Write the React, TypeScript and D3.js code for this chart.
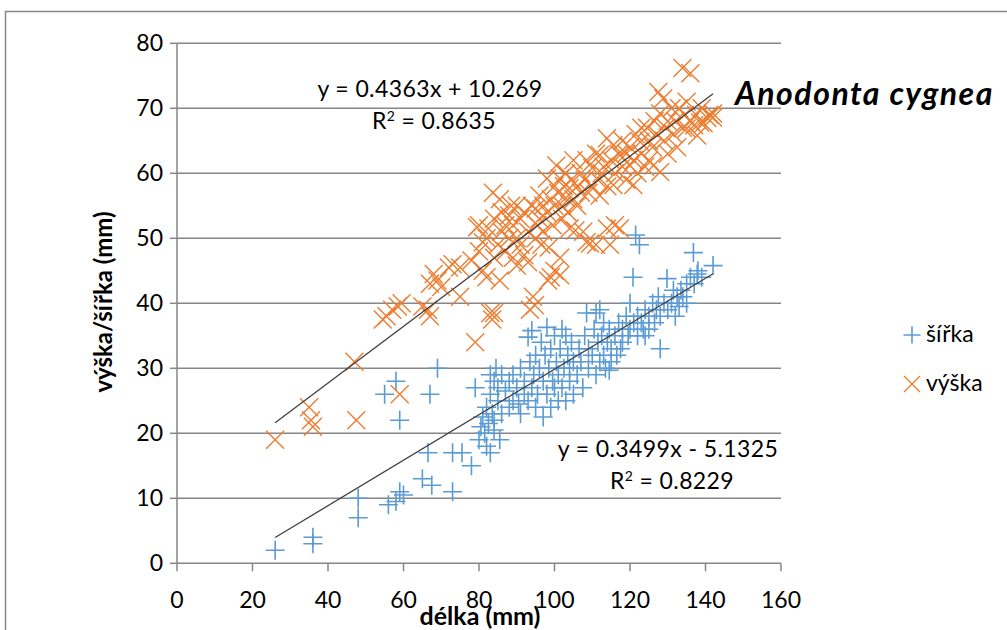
import React from "react";
import * as d3 from "d3";

// šířka (width) measurements: [délka, šířka]
const sirka: [number, number][] = [
  [26, 2], [36, 4], [36, 3], [48, 10], [48, 7], [56, 9], [58, 9.5], [59, 11], [60, 10.5], [65, 13],
  [67.5, 12], [66.5, 17], [73, 17], [73, 11], [75.5, 17], [78, 15], [55, 26], [58, 28], [59, 22], [67, 26],
  [69, 30], [79, 27],
  [80, 19], [80.5, 21], [81, 22.5], [81.5, 20], [82, 18], [82, 24], [82.5, 21.5], [83, 29], [83, 17], [83, 26],
  [83.5, 23], [84, 20.5], [84, 28], [84.5, 30], [84, 22], [85, 25], [85, 27], [85.5, 19], [86, 23], [86, 29],
  [87, 26.5], [88, 24], [88, 28], [89, 29], [89, 25], [90, 27], [90.5, 24.5], [91, 23], [91, 30], [92, 26],
  [92, 28], [93, 34.8], [93, 25], [93.5, 31], [94, 35.8], [94, 27], [94.5, 29], [95, 24], [95, 32], [95.5, 26],
  [96, 30], [96.5, 34], [97, 22.5], [97, 28], [97.5, 32], [98, 36.3], [98, 26], [98.5, 30], [99, 24], [99, 33],
  [99.5, 28], [100, 35], [100, 27], [100.5, 31], [101, 25], [101, 29], [101.5, 33], [102, 36], [102, 27], [102.5, 30],
  [103, 35], [103, 25], [103.5, 32], [104, 28], [104, 30], [104.5, 34], [105, 26], [105, 31],
  [106, 29], [106.5, 33], [107, 31], [107.5, 27], [108, 35], [108.5, 38.5], [109, 30], [109, 33], [110, 32], [110.5, 36],
  [111, 38.5], [111, 29], [111.5, 34], [112, 39], [112, 31], [112.5, 35], [113, 32], [113, 37], [113.5, 30], [114, 34],
  [114.5, 29.7], [114.5, 36], [115, 33], [115, 31],
  [116, 35], [116.5, 32], [117, 37], [117.5, 33], [118, 36], [118, 34], [119, 38], [119.5, 35], [120, 40], [120, 36],
  [120.8, 44], [121.5, 50.5], [122.5, 49], [121, 37], [122, 35], [122, 38], [123, 37], [123.5, 36], [124, 39], [124, 35],
  [125, 38], [125, 36],
  [126, 40], [126.5, 37], [127, 39], [127.5, 41], [128, 33], [128, 38], [129, 40], [129.8, 43.8], [130, 39], [131, 40],
  [131.5, 42], [132, 38], [132.5, 41], [133, 39.5], [133.5, 42], [134, 41], [135, 43], [135, 40], [136, 44], [136.8, 47.8],
  [137, 43], [137.8, 44.5], [138, 45], [139, 44], [142, 45.8],
];

// výška (height) measurements: [délka, výška]
const vyska: [number, number][] = [
  [26, 19], [35, 24], [35.5, 22], [36, 21], [47.5, 22], [47, 31], [59, 26],
  [54.5, 37.5], [55.5, 38], [57, 39], [58.5, 39.5], [59.5, 40], [65, 39.5], [66.5, 39], [67, 38], [67, 43],
  [68, 44.5], [69, 43.5], [70, 42.5], [72, 45.5], [73, 46], [75, 45.5], [75, 41], [79, 34], [79.5, 51.7], [78, 46.6], [80, 52],
  [80, 48], [81, 49.4], [81, 45], [82, 50], [82, 44], [82.5, 51.5], [83, 38.5], [83.5, 37.5], [84, 38.5], [83.7, 57],
  [84, 47], [84, 53], [85, 49], [85.5, 56], [85.5, 43.5], [86, 51], [86, 54], [87, 48], [87, 52], [88, 53.5],
  [88, 50], [88.5, 55], [89, 47], [89, 52], [90, 55], [90, 45.8], [90, 50],
  [91, 53], [91, 49], [92, 47.4], [92, 54], [93, 46.3], [93, 51], [93.5, 39], [94, 55], [94.3, 41], [94.8, 39.7],
  [95, 54.6], [95, 50], [95.5, 52], [96, 56.6], [96, 53], [96.5, 49], [97, 55], [97, 51], [98, 59.2], [98, 54],
  [98.5, 48.6], [98.3, 43.5], [99, 44], [99, 56], [99.5, 52], [100, 45], [100, 58], [100, 55],
  [100.5, 61.2], [101, 57], [101.4, 59.2], [101.5, 44.3], [101.5, 47], [102, 55], [102, 53], [102.5, 58], [103, 56.2], [103, 60],
  [103.5, 54], [104, 57.7], [104, 51.5], [104.5, 59], [105, 56], [105, 62], [105.5, 51.2], [106, 58], [106, 55], [107, 60],
  [107, 57], [107.6, 51], [108, 59], [108.5, 49.4], [108.5, 62], [109, 57], [109.4, 49.2], [110, 60.8], [110, 58],
  [111, 49], [111, 63], [111.5, 59], [112, 62.8], [112, 56.6], [112.5, 60], [113, 61], [113.9, 65.4], [113.9, 51.5], [114, 58],
  [114.7, 49], [115, 62], [115.6, 64.3], [115.6, 58.2], [116, 60], [116, 52], [117, 63], [117.3, 51.5], [117.4, 62.8], [118, 61],
  [118, 65], [119, 63], [119, 59], [120, 61.2], [120, 64], [120.9, 58.2],
  [121, 62], [121.5, 66], [122, 60], [122.7, 64.8], [123, 63], [123, 67], [124, 61], [124.5, 67], [125, 65], [125, 62],
  [126, 64], [126.2, 61.2], [126.5, 68], [127, 66], [127.5, 72.5], [128, 60.2], [128, 69.2], [128.8, 71.5], [129, 65], [129.5, 67],
  [130, 63], [130, 68],
  [131, 70], [131.5, 66], [132, 68], [132.5, 64], [133, 70], [133.9, 76.2], [134, 67], [134.5, 69], [135, 66.9], [135, 71],
  [136, 75.4], [136, 68], [137, 67.4], [137.5, 69], [137.8, 65.8], [138.6, 67.8], [139, 70], [139.5, 67.7], [140.5, 68.5], [141, 69],
  [142, 69.2], [142, 68.6],
];

const xTicks = [0, 20, 40, 60, 80, 100, 120, 140, 160];
const yTicks = [0, 10, 20, 30, 40, 50, 60, 70, 80];

// trendlines (linear regression from the reference)
const trendVyska = { slope: 0.4363, intercept: 10.269, r2: "0.8635", label: "y = 0.4363x + 10.269" };
const trendSirka = { slope: 0.3499, intercept: -5.1325, r2: "0.8229", label: "y = 0.3499x - 5.1325" };

const seriesNames = ["šířka", "výška"];
const title = "Anodonta cygnea";
const xTitle = "délka (mm)";
const yTitle = "výška/šířka (mm)";

const BLUE = "#5B9BD5";
const ORANGE = "#ED7D31";
const GRID = "#868686";
const FONT = "Lato, 'Open Sans', sans-serif";

export default function App() {
  const x = d3.scaleLinear().domain([0, 160]).range([177, 781]);
  const y = d3.scaleLinear().domain([0, 80]).range([563.3, 43.3]);
  const line = d3.line<[number, number]>().x((d) => x(d[0])).y((d) => y(d[1]));

  const trendPts = (data: [number, number][], t: { slope: number; intercept: number }) => {
    const [a, b] = d3.extent(data, (d) => d[0]) as [number, number];
    return [[a, t.slope * a + t.intercept], [b, t.slope * b + t.intercept]] as [number, number][];
  };

  const P = 9.5;
  const C = 9;
  const plus = `M${-P},0H${P}M0,${-P}V${P}`;
  const cross = `M${-C},${-C}L${C},${C}M${-C},${C}L${C},${-C}`;
  const TF = 23;
  const EQ = 23;

  return (
    <svg width={1007} height={630} style={{ position: "absolute", left: 0, top: 0, background: "#fff" }} fontFamily={FONT}>
      <rect x={0} y={0} width={1007} height={630} fill="#fff" />
      {/* chart frame */}
      <path d={`M5.5,630V11.5H1007`} fill="none" stroke={GRID} strokeWidth={1.5} />

      {/* gridlines */}
      {yTicks.filter((t) => t > 0).map((t) => (
        <line key={t} x1={x(0)} x2={x(160)} y1={y(t)} y2={y(t)} stroke={GRID} strokeWidth={1.5} />
      ))}
      {/* axes */}
      <line x1={x(0)} x2={x(0)} y1={y(0)} y2={y(80)} stroke={GRID} strokeWidth={1.5} />
      <line x1={x(0)} x2={x(160)} y1={y(0)} y2={y(0)} stroke={GRID} strokeWidth={1.5} />
      {yTicks.map((t) => (
        <g key={"yt" + t}>
          <line x1={x(0) - 7} x2={x(0)} y1={y(t)} y2={y(t)} stroke={GRID} strokeWidth={1.5} />
          <text x={163} y={y(t)} dy="0.35em" textAnchor="end" fontSize={TF} fill="#000">{t}</text>
        </g>
      ))}
      {xTicks.map((t) => (
        <g key={"xt" + t}>
          <line x1={x(t)} x2={x(t)} y1={y(0)} y2={y(0) + 8} stroke={GRID} strokeWidth={1.5} />
          <text x={x(t)} y={608} textAnchor="middle" fontSize={TF} fill="#000">{t}</text>
        </g>
      ))}

      {/* axis titles */}
      <text x={480} y={625} textAnchor="middle" fontSize={25} fontWeight="bold" fill="#000">{xTitle}</text>
      <text transform={`translate(112,302) rotate(-90)`} textAnchor="middle" fontSize={24} fontWeight="bold" fill="#000">{yTitle}</text>

      {/* markers */}
      <g stroke={BLUE} strokeWidth={1.6} fill="none">
        {sirka.map((d, i) => (
          <path key={"s" + i} d={plus} transform={`translate(${x(d[0])},${y(d[1])})`} />
        ))}
      </g>
      <g stroke={ORANGE} strokeWidth={1.4} fill="none">
        {vyska.map((d, i) => (
          <path key={"v" + i} d={cross} transform={`translate(${x(d[0])},${y(d[1])})`} />
        ))}
      </g>

      {/* trendlines */}
      <path d={line(trendPts(vyska, trendVyska)) || ""} stroke="#404040" strokeWidth={1.3} fill="none" />
      <path d={line(trendPts(sirka, trendSirka)) || ""} stroke="#404040" strokeWidth={1.3} fill="none" />

      {/* equations */}
      <text x={430} y={97} textAnchor="middle" fontSize={EQ} letterSpacing={0.4} fill="#000">{trendVyska.label}</text>
      <text x={434} y={129} textAnchor="middle" fontSize={EQ} letterSpacing={0.4} fill="#000">R<tspan dy={-8} fontSize={14}>2</tspan><tspan dy={8}> = {trendVyska.r2}</tspan></text>
      <text x={668} y={457} textAnchor="middle" fontSize={EQ} letterSpacing={0.4} fill="#000">{trendSirka.label}</text>
      <text x={672} y={489} textAnchor="middle" fontSize={EQ} letterSpacing={0.4} fill="#000">R<tspan dy={-8} fontSize={14}>2</tspan><tspan dy={8}> = {trendSirka.r2}</tspan></text>

      {/* title */}
      <text x={735} y={105} fontSize={32} fontWeight="bold" fontStyle="italic" letterSpacing={1.5} fill="#000">{title}</text>

      {/* legend */}
      <path d={`M-8.5,0H8.5M0,-8.5V8.5`} transform="translate(912,335)" stroke={BLUE} strokeWidth={1.6} fill="none" />
      <text x={926} y={342} fontSize={TF} fill="#000">{seriesNames[0]}</text>
      <path d={`M-8,-8L8,8M-8,8L8,-8`} transform="translate(912,384)" stroke={ORANGE} strokeWidth={1.4} fill="none" />
      <text x={926} y={391} fontSize={TF} fill="#000">{seriesNames[1]}</text>
    </svg>
  );
}
